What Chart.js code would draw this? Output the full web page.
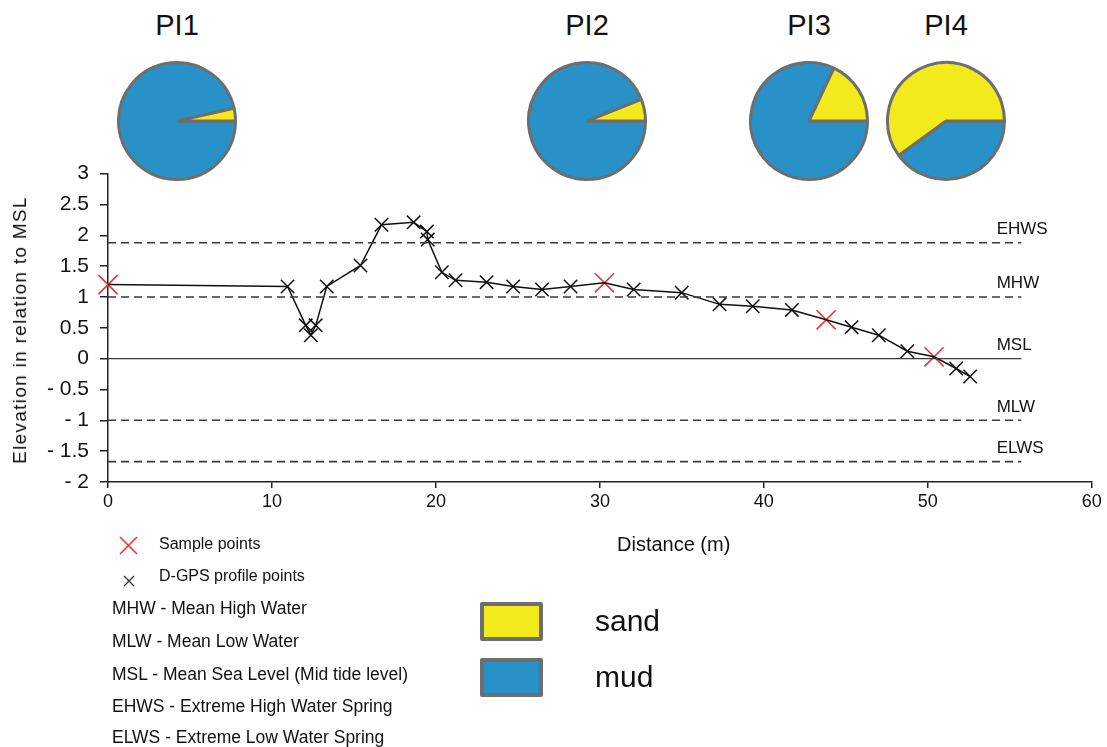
<!DOCTYPE html>
<html>
<head>
<meta charset="utf-8">
<script src="https://cdn.jsdelivr.net/npm/chart.js@4.4.1/dist/chart.umd.min.js"></script>
<style>
  body { margin: 0; background: #fff; font-family: "Liberation Sans", Arial, sans-serif; color: #111; }
  #wrap { position: relative; width: 1107px; height: 747px; overflow: hidden; }
  .abs { position: absolute; }
  .pieTitle { font-size: 29px; width: 120px; text-align: center; }
  .leg { font-size: 17.5px; white-space: nowrap; }
  .box { width: 55px; height: 31px; border: 4px solid #6e6e6e; border-radius: 2px; }
  .big { font-size: 30px; }
</style>
</head>
<body>
<div id="wrap">
  <canvas id="profile" class="abs" style="left:0;top:150px" width="1107" height="400"></canvas>
  <div class="abs" style="left:20px;top:330px;transform:translate(-50%,-50%) rotate(-90deg);font-size:19px;white-space:nowrap;letter-spacing:1.3px">Elevation in relation to MSL</div>
  <div class="abs" style="left:617px;top:533px;font-size:20px;white-space:nowrap">Distance (m)</div>

  <div class="abs leg" style="left:119px;top:536px"><svg width="19" height="19"><path d="M1 1L18 18M18 1L1 18" stroke="#e8383d" stroke-width="1.7"/></svg></div>
  <div class="abs leg" style="left:159px;top:535px;font-size:16px">Sample points</div>
  <div class="abs leg" style="left:123px;top:571px"><svg width="12" height="12"><path d="M1 1L11 11M11 1L1 11" stroke="#333" stroke-width="1.3"/></svg></div>
  <div class="abs leg" style="left:159px;top:567px;font-size:16px">D-GPS profile points</div>
  <div class="abs leg" style="left:112px;top:598px">MHW - Mean High Water</div>
  <div class="abs leg" style="left:112px;top:631px">MLW - Mean Low Water</div>
  <div class="abs leg" style="left:112px;top:664px">MSL - Mean Sea Level (Mid tide level)</div>
  <div class="abs leg" style="left:112px;top:696px">EHWS - Extreme High Water Spring</div>
  <div class="abs leg" style="left:112px;top:727px">ELWS - Extreme Low Water Spring</div>

  <div class="abs box" style="left:480px;top:602px;background:#f2ea1b"></div>
  <div class="abs box" style="left:480px;top:658px;background:#2791c8"></div>
  <div class="abs big" style="left:595px;top:604px">sand</div>
  <div class="abs big" style="left:595px;top:660px">mud</div>
</div>
<script>
// profile along the transect (D-GPS + sample points, in walking order)
const profileDist = [0, 10.95, 12.06, 12.37, 12.67, 13.34, 15.4, 16.68, 18.64, 19.45, 19.5, 20.36, 21.2, 23.09, 24.71, 26.47, 28.21, 30.28, 32.06, 34.99, 37.3, 39.32, 41.71, 43.8, 45.35, 47.01, 48.75, 50.38, 51.73, 52.58];
const profileElev = [1.20, 1.17, 0.54, 0.38, 0.54, 1.17, 1.51, 2.17, 2.21, 2.06, 1.93, 1.40, 1.27, 1.24, 1.17, 1.12, 1.17, 1.23, 1.12, 1.07, 0.88, 0.85, 0.79, 0.63, 0.51, 0.38, 0.12, 0.03, -0.16, -0.29];

// sample points (red crosses)
const sampleDist = [0, 30.28, 43.8, 50.38];
const sampleElev = [1.20, 1.23, 0.63, 0.03];

// tide levels
const levelNames = ['EHWS', 'MHW', 'MSL', 'MLW', 'ELWS'];
const levelValues = [1.88, 1.0, 0, -1.0, -1.67];
const levelEnd = 55.7;
const levelLabelX = 54.2;

// sediment pies
const pieNames = ['PI1', 'PI2', 'PI3', 'PI4'];
const mudPct = [96.5, 94, 82, 40];
const sandPct = [3.5, 6, 18, 60];

const pieCenters = [177, 587, 809, 946];

const profilePts = profileDist.map((d, i) => ({x: d, y: profileElev[i]}));
const gpsPts = profilePts.filter(p => !sampleDist.includes(p.x));
const samplePts = sampleDist.map((d, i) => ({x: d, y: sampleElev[i]}));

const levelSets = levelNames.map((n, i) => ({
  label: n,
  data: [{x: 0, y: levelValues[i]}, {x: levelEnd, y: levelValues[i]}],
  borderColor: '#3a3a3a',
  borderWidth: n == 'MSL' ? 1.4 : 1.6,
  borderDash: n == 'MSL' ? [] : [8, 5],
  pointRadius: 0,
  showLine: true,
}));

const levelLabels = {
  id: 'levelLabels',
  afterDatasetsDraw(chart) {
    const ctx = chart.ctx;
    const xs = chart.scales.x, ys = chart.scales.y;
    ctx.save();
    ctx.font = '17px "Liberation Sans", Arial, sans-serif';
    ctx.fillStyle = '#111';
    ctx.textBaseline = 'bottom';
    levelNames.forEach((n, i) => {
      ctx.fillText(n, xs.getPixelForValue(levelLabelX), ys.getPixelForValue(levelValues[i]) - 5);
    });
    ctx.restore();
  }
};

new Chart(document.getElementById('profile'), {
  type: 'scatter',
  data: {
    datasets: [
      ...levelSets,
      {
        label: 'profile',
        data: profilePts,
        borderColor: '#111',
        borderWidth: 1.5,
        pointRadius: 0,
        showLine: true,
        clip: false,
      },
      {
        label: 'D-GPS profile points',
        data: gpsPts,
        pointStyle: 'crossRot',
        pointRadius: 9.5,
        pointBorderWidth: 1.5,
        pointBorderColor: '#111',
        showLine: false,
        clip: false,
      },
      {
        label: 'Sample points',
        data: samplePts,
        pointStyle: 'crossRot',
        pointRadius: 13.5,
        pointBorderWidth: 1.7,
        pointBorderColor: '#e8383d',
        showLine: false,
        clip: false,
      }
    ]
  },
  options: {
    responsive: false,
    animation: false,
    layout: { padding: { top: 22, right: 12, left: 0, bottom: 0 } },
    plugins: { legend: { display: false }, tooltip: { enabled: false } },
    scales: {
      x: {
        type: 'linear', min: 0, max: 60,
        ticks: { stepSize: 10, color: '#111', padding: 3, font: { size: 18, family: '"Liberation Sans", Arial' } },
        grid: { drawOnChartArea: false, tickLength: 6, color: '#222', lineWidth: 1.5 },
        border: { color: '#222', width: 1.5 },
        afterFit(s) { s.height = 68; }
      },
      y: {
        min: -2, max: 3,
        ticks: {
          stepSize: 0.5, color: '#111', padding: 11,
          font: { size: 21, family: '"Liberation Sans", Arial' },
          callback: v => v < 0 ? '- ' + Math.abs(v) : String(v)
        },
        grid: { drawOnChartArea: false, tickLength: 8, color: '#222', lineWidth: 1.5 },
        border: { color: '#222', width: 1.5 },
        afterFit(s) { s.width = 108; }
      }
    }
  },
  plugins: [levelLabels]
});

const wrap = document.getElementById('wrap');
pieNames.forEach((name, i) => {
  const t = document.createElement('div');
  t.className = 'abs pieTitle';
  t.style.left = (pieCenters[i] - 60) + 'px';
  t.style.top = '9px';
  t.textContent = name;
  wrap.appendChild(t);

  const c = document.createElement('canvas');
  c.className = 'abs';
  c.width = 124; c.height = 124;
  c.style.left = (pieCenters[i] - 62) + 'px';
  c.style.top = '59px';
  wrap.appendChild(c);

  new Chart(c, {
    type: 'pie',
    data: {
      labels: ['mud', 'sand'],
      datasets: [{
        data: [mudPct[i], sandPct[i]],
        backgroundColor: ['#2791c8', '#f2ea1b'],
        borderColor: '#6e6e6e',
        borderWidth: 3,
      }]
    },
    options: {
      responsive: false,
      animation: false,
      rotation: 90,
      layout: { padding: 2 },
      plugins: { legend: { display: false }, tooltip: { enabled: false } }
    }
  });
});
</script>
</body>
</html>
